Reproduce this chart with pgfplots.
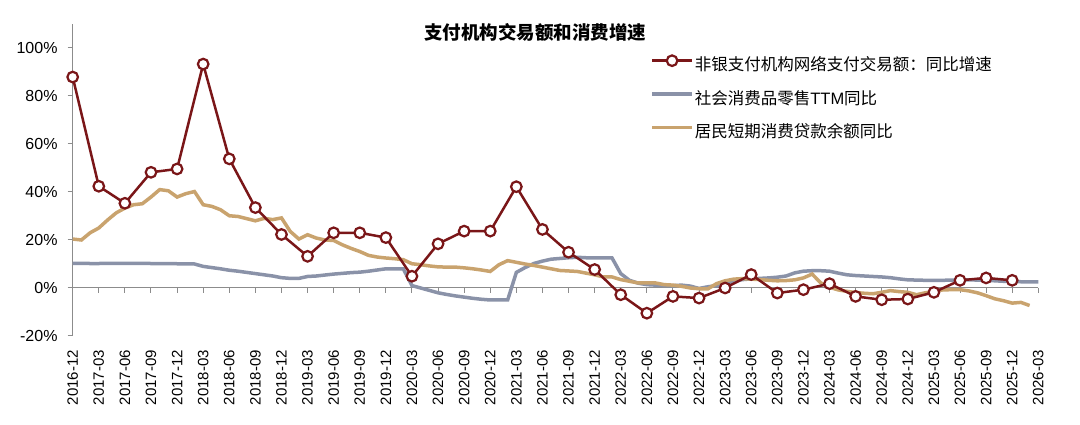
\documentclass[border=0pt]{standalone}
\usepackage{fontspec}
\usepackage{pgfplots}
\usepackage{pgfplotstable}
\pgfplotsset{compat=1.18}
\setmainfont{Liberation Sans}
\newfontfamily\cjk{Noto Sans CJK SC}
\definecolor{cred}{RGB}{122,22,24}
\definecolor{cgray}{RGB}{138,146,168}
\definecolor{ctan}{RGB}{201,163,110}
\definecolor{axgray}{RGB}{140,140,140}

\pgfplotstableread{
m v
0 87.9
3 42.4
6 35.3
9 48.2
12 49.6
15 93.3
18 53.8
21 33.5
24 22.3
27 13.2
30 23.0
33 23.0
36 21.0
39 4.9
42 18.4
45 23.7
48 23.7
51 42.2
54 24.4
57 14.9
60 7.7
63 -2.8
66 -10.5
69 -3.5
72 -4.2
75 0.0
78 5.6
81 -2.1
84 -0.7
87 1.8
90 -3.5
93 -4.9
96 -4.6
99 -1.8
102 3.2
105 4.2
108 3.2
}\payment

\pgfplotstableread{
m v
0 10.3
1 10.3
2 10.2
3 10.2
4 10.3
5 10.3
6 10.3
7 10.3
8 10.3
9 10.2
10 10.2
11 10.2
12 10.1
13 10.1
14 10.0
15 9.0
16 8.5
17 8.0
18 7.4
19 7.0
20 6.5
21 6.0
22 5.5
23 5.0
24 4.3
25 4.0
26 4.0
27 4.8
28 5.0
29 5.4
30 5.8
31 6.1
32 6.4
33 6.6
34 7.0
35 7.5
36 8.0
37 8.0
38 8.0
39 1.0
40 0.0
41 -1.0
42 -2.0
43 -2.7
44 -3.3
45 -3.8
46 -4.3
47 -4.7
48 -5.0
49 -5.0
50 -5.0
51 6.5
52 8.5
53 10.2
54 11.2
55 12.0
56 12.3
57 12.6
58 12.8
59 12.6
60 12.5
61 12.5
62 12.5
63 6.0
64 3.2
65 2.0
66 1.4
67 1.2
68 1.0
69 1.0
70 1.2
71 0.8
72 -0.2
73 0.5
74 1.0
75 1.6
76 2.8
77 3.5
78 3.8
79 4.0
80 4.2
81 4.5
82 5.0
83 6.3
84 7.0
85 7.2
86 7.2
87 7.0
88 6.2
89 5.5
90 5.2
91 5.0
92 4.8
93 4.6
94 4.3
95 3.8
96 3.4
97 3.3
98 3.2
99 3.2
100 3.2
101 3.3
102 3.4
103 3.4
104 3.3
105 3.2
106 3.0
107 2.8
108 2.7
109 2.6
110 2.5
111 2.5
}\retail

\pgfplotstableread{
m v
0 20.4
1 20.0
2 23.0
3 25.0
4 28.3
5 31.3
6 33.3
7 34.7
8 35.1
9 37.9
10 41.0
11 40.5
12 37.9
13 39.3
14 40.2
15 34.7
16 34.0
17 32.6
18 30.1
19 29.8
20 28.9
21 28.0
22 29.0
23 28.5
24 29.2
25 23.6
26 20.4
27 22.2
28 20.8
29 20.0
30 19.8
31 18.0
32 16.5
33 15.2
34 13.6
35 12.9
36 12.5
37 12.2
38 11.8
39 10.1
40 9.7
41 9.2
42 8.8
43 8.7
44 8.7
45 8.4
46 8.0
47 7.5
48 6.9
49 9.7
50 11.4
51 10.7
52 10.0
53 9.4
54 8.7
55 8.0
56 7.3
57 7.1
58 6.9
59 6.2
60 5.5
61 4.6
62 4.6
63 3.5
64 2.8
65 2.1
66 2.1
67 2.1
68 1.4
69 1.2
70 0.7
71 0.0
72 -0.3
73 -0.4
74 1.8
75 3.0
76 3.7
77 3.9
78 3.7
79 3.5
80 3.2
81 3.0
82 3.1
83 3.4
84 4.2
85 5.8
86 2.1
87 0.3
88 -0.8
89 -1.4
90 -1.9
91 -2.2
92 -2.4
93 -1.8
94 -1.1
95 -1.5
96 -1.8
97 -2.8
98 -2.0
99 -1.4
100 -0.8
101 -0.7
102 -0.7
103 -1.2
104 -2.0
105 -3.2
106 -4.5
107 -5.3
108 -6.3
109 -6.0
110 -7.3
}\loans

\begin{document}
\begin{tikzpicture}
\useasboundingbox (0,0) rectangle (1080pt,425pt);
\begin{axis}[
  at={(72.7pt,89pt)}, anchor=south west,
  scale only axis, width=965.6pt, height=312pt,
  xmin=0, xmax=111, ymin=-20, ymax=110,
  axis y line*=left,
  axis x line*=bottom,
  x axis line style={draw=none},
  y axis line style={draw=axgray, line width=1pt},
  xtick={0,3,...,111},
  xticklabels={2016-12,2017-03,2017-06,2017-09,2017-12,2018-03,2018-06,2018-09,2018-12,2019-03,2019-06,2019-09,2019-12,2020-03,2020-06,2020-09,2020-12,2021-03,2021-06,2021-09,2021-12,2022-03,2022-06,2022-09,2022-12,2023-03,2023-06,2023-09,2023-12,2024-03,2024-06,2024-09,2024-12,2025-03,2025-06,2025-09,2025-12,2026-03},
  xtick style={draw=none},
  xticklabel style={rotate=90, anchor=east, inner sep=0pt, font=\fontsize{15}{17}\selectfont},
  xticklabel shift=9pt,
  ytick={-20,0,20,40,60,80,100},
  yticklabels={-20\%,0\%,20\%,40\%,60\%,80\%,100\%},
  yticklabel style={inner sep=0pt, font=\fontsize{16}{18}\selectfont},
  yticklabel shift=10pt,
  ytick style={draw=axgray, line width=1pt},
  tick align=outside,
  major tick length=5pt,
  title={\cjk\bfseries 支付机构交易额和消费增速},
  title style={at={(0.479,0.955)}, anchor=center, inner sep=0pt, font=\fontsize{18.5}{20}\selectfont},
  clip=false,
  legend style={draw=none, fill=none, at={(0.598,0.9)}, anchor=north west,
    inner sep=0pt, row sep=17.5pt, font=\fontsize{16.5}{18}\selectfont,
    nodes={inner sep=0pt, text height=13pt, text depth=3pt}},
  legend cell align=left,
  legend image code/.code={\draw[mark repeat=2,mark phase=2,#1] plot coordinates {(0pt,5pt) (20pt,5pt) (40pt,5pt)};},
  /tikz/every odd column/.append style={column sep=1pt},
]
\draw[axgray, line width=1pt] (axis cs:0,0) -- (axis cs:111,0);
\pgfplotsinvokeforeach{0,3,...,111}{\draw[axgray, line width=1pt] (axis cs:#1,0) -- ([yshift=-5pt]axis cs:#1,0);}
\addlegendimage{cred, line width=2.5pt, mark=*, mark size=5.3pt, mark options={fill=white, line width=2.2pt}}
\addlegendentry{\cjk 非银支付机构网络支付交易额：同比增速}
\addplot[cgray, line width=3.5pt, no marks] table[x=m,y=v] {\retail};
\addlegendentry{{\cjk 社会消费品零售}TTM{\cjk 同比}}
\addplot[ctan, line width=3.5pt, no marks] table[x=m,y=v] {\loans};
\addlegendentry{\cjk 居民短期消费贷款余额同比}
\addplot[cred, line width=2.5pt, mark=*, mark size=5.3pt, mark options={fill=white, line width=2.2pt}, forget plot] table[x=m,y=v] {\payment};
\end{axis}
\end{tikzpicture}
\end{document}
